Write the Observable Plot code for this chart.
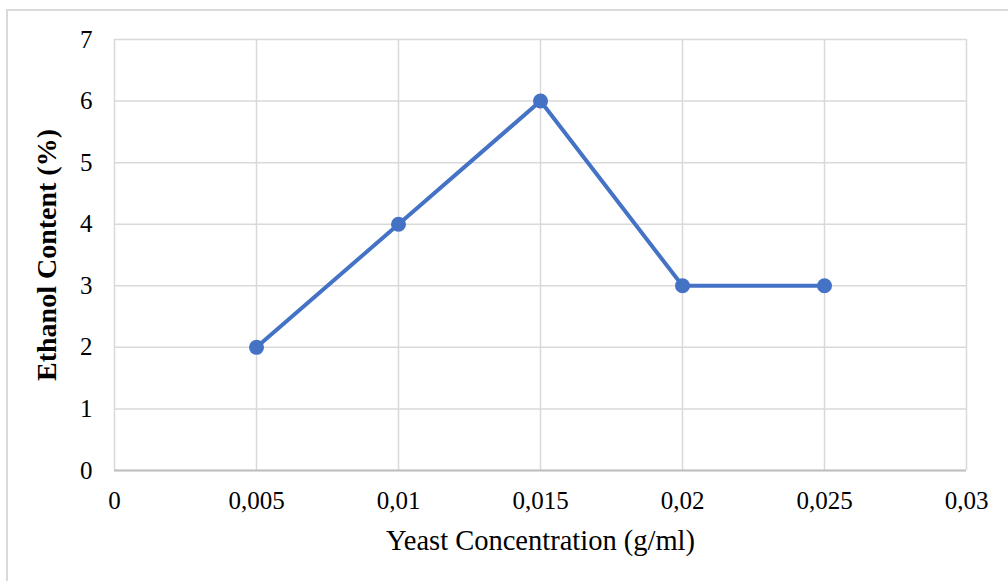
<!DOCTYPE html>
<html><head><meta charset="utf-8">
<script src="https://cdn.jsdelivr.net/npm/d3@7"></script>
<script src="https://cdn.jsdelivr.net/npm/@observablehq/plot@0.6"></script>
<style>
body{margin:0;background:#fff;}
#wrap{position:relative;width:1008px;height:581px;overflow:hidden;background:#fff;}
#border{position:absolute;left:6px;top:9px;width:1020px;height:600px;border:2px solid #d9d9d9;}
#chart{position:absolute;left:0;top:0;}
#chart svg text{font-family:'Liberation Serif','Times New Roman',serif;}
</style></head><body>
<div id="wrap"><div id="border"></div><div id="chart"></div></div>
<script>
const concentration = [0.005, 0.01, 0.015, 0.02, 0.025];
const ethanol = [2, 4, 6, 3, 3];
const xTicks = [0, 0.005, 0.01, 0.015, 0.02, 0.025, 0.03];
const yTicks = [0, 1, 2, 3, 4, 5, 6, 7];
const xTitle = "Yeast Concentration (g/ml)";
const yTitle = "Ethanol Content (%)";

const data = concentration.map((c, i) => ({c, e: ethanol[i]}));
const fmt = d => String(d).replace(".", ",");
const font = "'Liberation Serif', 'Times New Roman', serif";

const chart = Plot.plot({
  width: 1008,
  height: 581,
  marginLeft: 114,
  marginRight: 42,
  marginTop: 39,
  marginBottom: 111,
  style: {fontFamily: font, fontSize: "25px", color: "#000", background: "transparent", overflow: "visible"},
  x: {domain: [0, 0.03], ticks: xTicks, tickFormat: fmt},
  y: {domain: [0, 7], ticks: yTicks, tickFormat: d => String(d)},
  marks: [
    Plot.gridX(xTicks, {stroke: "#d9d9d9", strokeOpacity: 1, strokeWidth: 1.5}),
    Plot.gridY(yTicks, {stroke: "#d9d9d9", strokeOpacity: 1, strokeWidth: 1.5}),
    Plot.ruleY([0], {stroke: "#bfbfbf", strokeWidth: 2}),
    Plot.axisX(xTicks, {tickSize: 0, tickPadding: 21, tickFormat: fmt, label: null, fontSize: 25, fontFamily: font, fill: "#000"}),
    Plot.axisY(yTicks, {tickSize: 0, tickPadding: 22, tickFormat: d => String(d), label: null, fontSize: 25, fontFamily: font, fill: "#000"}),
    Plot.line(data, {x: "c", y: "e", stroke: "#4472C4", strokeWidth: 4}),
    Plot.dot(data, {x: "c", y: "e", fill: "#4472C4", r: 7.5}),
    Plot.text([xTitle], {frameAnchor: "bottom", dy: 70, text: d => d, fontSize: 28.5, fontFamily: font, textAnchor: "middle", lineAnchor: "middle"}),
    Plot.text([yTitle], {frameAnchor: "left", dx: -67, rotate: -90, text: d => d, fontSize: 28, fontFamily: font, fontWeight: "bold", textAnchor: "middle", lineAnchor: "middle"})
  ]
});
document.getElementById("chart").appendChild(chart);
</script>
</body></html>
